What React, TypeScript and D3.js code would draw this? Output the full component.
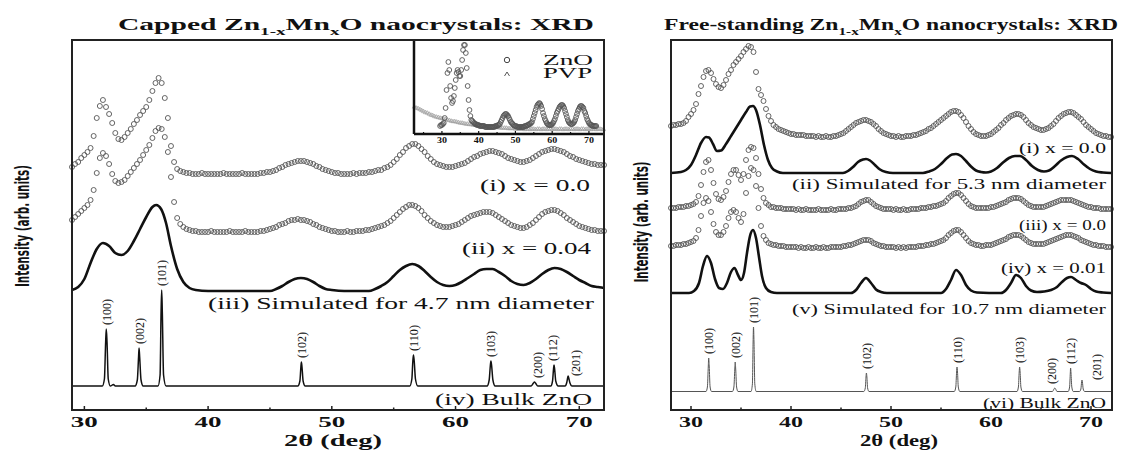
import * as d3 from 'd3'

// ---- data (2θ in degrees, intensity in arb. units above each trace's own baseline) ----
const STEP = 0.25
const CAP_START = 29
const FREE_START = 28
const INSET_START = 29.5
const PVP_START = 22.5
const PVP_STEP = 0.5

// capped NCs, (i) x = 0.0  (29 .. 72, step 0.25)
const capX000 = [
  7, 10, 12, 16, 19, 22, 26, 38, 56, 68, 74, 67, 60, 51, 41, 35,
  34, 37, 41, 45, 50, 54, 59, 63, 67, 74, 83, 91, 96, 91, 76, 56,
  28, 12, 5, 3, 2, 1, 1, 0, 0, 0, 1, 0, 0, 0, 0, 0,
  0, 1, 0, 0, 0, 0, 0, 1, 0, 0, 0, 0, 0, 1, 1, 2,
  2, 3, 4, 6, 7, 9, 10, 11, 12, 13, 13, 13, 12, 11, 10, 8,
  7, 5, 4, 3, 2, 1, 1, 0, 0, 0, 0, 1, 0, 1, 1, 1,
  2, 2, 3, 4, 4, 6, 7, 9, 12, 15, 19, 22, 26, 28, 30, 30,
  28, 25, 22, 18, 15, 12, 10, 9, 8, 7, 7, 7, 8, 9, 10, 11,
  13, 15, 17, 18, 20, 21, 22, 23, 23, 22, 21, 20, 18, 16, 15, 14,
  13, 12, 12, 13, 14, 16, 18, 20, 22, 23, 24, 25, 25, 24, 23, 22,
  20, 18, 17, 15, 14, 13, 12, 11, 10, 10, 9, 9, 9
]

// capped NCs, (ii) x = 0.04
const capX004 = [
  12, 15, 18, 21, 24, 27, 32, 42, 59, 74, 79, 76, 68, 58, 51, 49,
  50, 52, 56, 60, 64, 68, 72, 77, 82, 87, 94, 101, 104, 103, 95, 80,
  55, 30, 14, 8, 5, 3, 2, 1, 1, 0, 0, 0, 0, 1, 0, 0,
  0, 0, 0, 1, 0, 0, 0, 0, 1, 0, 0, 0, 0, 1, 1, 2,
  3, 4, 5, 7, 8, 9, 11, 12, 12, 13, 12, 12, 11, 10, 8, 7,
  5, 4, 3, 2, 1, 1, 0, 0, 0, 1, 0, 0, 1, 1, 1, 2,
  2, 3, 4, 5, 6, 7, 9, 11, 14, 17, 20, 23, 25, 27, 27, 26,
  24, 21, 17, 14, 11, 9, 7, 6, 5, 5, 5, 6, 7, 8, 10, 12,
  14, 16, 17, 18, 19, 20, 20, 20, 19, 17, 15, 13, 11, 9, 7, 6,
  5, 4, 4, 5, 7, 9, 12, 15, 18, 20, 21, 22, 22, 21, 19, 17,
  14, 12, 10, 8, 6, 5, 4, 3, 2, 2, 1, 1, 1
]

// capped NCs, (iii) simulated for 4.7 nm: [2θ, I]
const capSim47 = [
  [29, 1], [29.5, 4], [30, 12], [30.5, 28], [31, 42], [31.5, 48], [32, 45], [32.5, 38],
  [33, 36], [33.5, 40], [34, 50], [34.5, 62], [35, 74], [35.5, 84], [35.8, 86], [36.2, 82],
  [36.6, 68], [37, 45], [37.5, 22], [38, 9], [38.5, 3], [39, 1], [40, 0], [45, 0],
  [45.5, 2], [46, 5], [46.5, 9], [47, 12], [47.5, 13], [48, 12], [48.5, 9], [49, 5],
  [49.5, 2], [50, 1], [51, 0], [53, 0], [53.5, 2], [54, 5], [54.5, 9], [55, 15],
  [55.5, 21], [56, 25], [56.5, 27], [57, 25], [57.5, 20], [58, 14], [58.5, 9], [59, 6],
  [59.5, 5], [60, 6], [60.5, 9], [61, 13], [61.5, 17], [62, 21], [62.5, 22], [63, 22],
  [63.5, 19], [64, 15], [64.5, 10], [65, 7], [65.5, 6], [66, 8], [66.5, 12], [67, 17],
  [67.5, 21], [68, 23], [68.5, 22], [69, 19], [69.5, 15], [70, 11], [70.5, 8], [71, 5],
  [71.5, 4], [72, 3]
]

// capped panel, (iv) bulk ZnO: [2θ, I]
const capBulk = [
  [29, 1], [31.45, 1], [31.62, 8], [31.72, 45], [31.77, 58], [31.83, 45], [31.93, 8], [32.1, 1],
  [32.35, 2.5], [32.5, 1], [34.1, 1], [34.28, 7], [34.38, 30], [34.42, 39], [34.47, 30], [34.58, 7],
  [34.75, 1], [35.95, 1], [36.12, 12], [36.2, 75], [36.25, 97], [36.3, 75], [36.4, 12], [36.6, 1],
  [47.25, 1], [47.42, 6], [47.5, 20], [47.54, 25], [47.59, 20], [47.68, 6], [47.85, 1], [56.3, 1],
  [56.47, 8], [56.55, 26], [56.6, 32], [56.66, 26], [56.76, 8], [56.95, 1], [62.55, 1], [62.72, 7],
  [62.81, 21], [62.86, 26], [62.92, 21], [63.02, 7], [63.2, 1], [66.1, 1], [66.3, 4], [66.38, 5],
  [66.46, 4], [66.65, 1], [67.7, 1], [67.84, 6], [67.92, 18], [67.96, 22], [68.01, 18], [68.1, 6],
  [68.3, 1], [68.85, 1], [68.98, 4], [69.06, 9], [69.1, 11], [69.15, 9], [69.25, 4], [69.4, 1],
  [72, 1]
]

// free-standing NCs, (i) x = 0.0  (28 .. 72, step 0.25)
const freeX000a = [
  11, 12, 12, 13, 13, 14, 16, 20, 23, 27, 33, 43, 51, 60, 66, 67,
  64, 58, 53, 50, 49, 52, 57, 63, 67, 72, 75, 78, 81, 85, 88, 91,
  90, 85, 65, 48, 42, 36, 28, 21, 16, 12, 10, 8, 7, 6, 5, 4,
  3, 3, 2, 2, 2, 2, 1, 1, 1, 1, 0, 1, 0, 0, 1, 0,
  0, 1, 1, 2, 3, 4, 6, 8, 10, 12, 14, 15, 16, 17, 17, 16,
  15, 13, 11, 8, 6, 4, 3, 2, 1, 1, 0, 1, 0, 0, 1, 1,
  1, 2, 2, 3, 4, 5, 6, 8, 9, 11, 13, 15, 17, 19, 21, 23,
  25, 26, 26, 25, 22, 19, 15, 11, 8, 5, 3, 2, 1, 1, 1, 2,
  3, 5, 7, 9, 12, 14, 17, 19, 21, 22, 23, 23, 22, 20, 17, 14,
  12, 10, 9, 8, 7, 7, 8, 9, 11, 13, 16, 19, 21, 23, 24, 25,
  25, 24, 22, 20, 18, 15, 12, 10, 8, 6, 4, 3, 2, 1, 1, 0,
  0
]

// free-standing, (ii) simulated for 5.3 nm
const freeSim53 = [
  [28, 0], [29, 1], [29.5, 3], [30, 8], [30.5, 18], [31, 30], [31.5, 36], [31.8, 35.5],
  [32.2, 29], [32.6, 22], [33, 22.5], [33.5, 29], [34, 37], [34.5, 45], [35, 53], [35.5, 61],
  [35.9, 66.5], [36.2, 67], [36.5, 63], [36.9, 48], [37.3, 28], [37.7, 13], [38.1, 5], [38.6, 1.5],
  [39.2, 0], [45.2, 0], [45.7, 2], [46.2, 6], [46.7, 11], [47.2, 13.5], [47.5, 14], [47.9, 12.5],
  [48.4, 8], [48.9, 3.5], [49.5, 1], [50.2, 0], [53.2, 0], [53.8, 1.5], [54.4, 4], [55, 9],
  [55.6, 15], [56.1, 18.5], [56.5, 19], [57, 17], [57.5, 12], [58, 6.5], [58.5, 2.5], [59, 1],
  [59.5, 0.5], [60, 1.5], [60.6, 5], [61.2, 10.5], [61.8, 15], [62.4, 17], [62.9, 17], [63.5, 13],
  [64.1, 7], [64.7, 3], [65.3, 1.5], [65.8, 2.5], [66.4, 7], [67, 12.5], [67.6, 16], [68.1, 17],
  [68.7, 14], [69.3, 8.5], [69.9, 4], [70.5, 1.5], [71.2, 0.5], [72, 0]
]

// free-standing, (iii) x = 0.0
const freeX000b = [
  2, 2, 2, 3, 3, 3, 4, 4, 5, 6, 8, 14, 25, 38, 48, 50,
  40, 27, 16, 11, 10, 13, 19, 28, 36, 40, 40, 35, 30, 36, 50, 60,
  63, 62, 52, 36, 21, 12, 7, 5, 3, 3, 2, 2, 2, 1, 1, 1,
  1, 1, 0, 1, 0, 0, 1, 0, 0, 0, 0, 1, 0, 0, 0, 0,
  1, 0, 0, 1, 1, 1, 1, 2, 2, 3, 4, 6, 8, 9, 10, 10,
  8, 6, 4, 3, 2, 1, 1, 1, 1, 0, 1, 0, 0, 1, 0, 0,
  1, 1, 1, 1, 2, 2, 2, 3, 3, 4, 4, 5, 6, 7, 9, 12,
  14, 16, 17, 17, 15, 12, 9, 6, 4, 3, 2, 2, 2, 2, 2, 2,
  3, 3, 4, 5, 6, 7, 8, 10, 11, 12, 12, 12, 11, 9, 7, 5,
  4, 3, 3, 3, 3, 3, 4, 5, 6, 7, 8, 9, 10, 10, 10, 10,
  10, 9, 8, 7, 6, 5, 4, 3, 3, 2, 2, 2, 1, 1, 1, 1,
  1
]

// free-standing, (iv) x = 0.01
const freeX001 = [
  2, 2, 3, 3, 3, 4, 4, 5, 6, 7, 10, 18, 32, 45, 50, 47,
  36, 24, 16, 13, 13, 16, 22, 30, 36, 38, 36, 30, 26, 34, 55, 72,
  80, 78, 62, 40, 22, 12, 8, 5, 4, 3, 3, 2, 2, 2, 1, 1,
  1, 1, 1, 0, 1, 0, 0, 1, 0, 0, 1, 0, 0, 1, 0, 0,
  1, 1, 1, 1, 1, 2, 2, 3, 3, 4, 5, 6, 7, 8, 8, 8,
  7, 5, 4, 3, 2, 2, 1, 1, 1, 1, 0, 1, 0, 1, 0, 1,
  1, 1, 1, 2, 2, 2, 3, 3, 4, 4, 5, 6, 7, 8, 10, 13,
  15, 17, 18, 18, 16, 13, 10, 7, 5, 4, 3, 3, 2, 2, 3, 3,
  3, 4, 5, 6, 7, 8, 9, 11, 12, 13, 13, 13, 12, 10, 8, 6,
  5, 4, 4, 4, 4, 4, 5, 6, 7, 8, 9, 10, 11, 12, 13, 13,
  13, 12, 11, 10, 8, 7, 6, 5, 4, 3, 3, 2, 2, 2, 1, 1,
  1
]

// free-standing, (v) simulated for 10.7 nm
const freeSim107 = [
  [28, 0], [29.8, 0], [30.3, 2], [30.8, 10], [31.2, 27], [31.6, 37], [32, 30], [32.4, 14],
  [32.8, 5], [33.2, 4], [33.6, 10], [34, 21], [34.35, 25], [34.7, 18], [35, 13], [35.3, 20],
  [35.6, 40], [35.9, 57], [36.2, 63], [36.5, 55], [36.8, 36], [37.1, 17], [37.5, 5], [38, 1],
  [38.6, 0], [46, 0], [46.5, 3], [47, 10], [47.5, 15], [48, 10], [48.5, 3.5], [49, 1],
  [49.6, 0], [55, 0], [55.5, 4], [56, 13], [56.5, 23], [57, 18], [57.5, 8], [58, 2.5],
  [58.6, 0.5], [61, 0], [61.5, 3], [62, 10], [62.5, 18], [63, 15], [63.5, 7], [64, 2.5],
  [64.6, 1], [65.3, 1.5], [66, 3], [66.6, 6], [67.1, 11], [67.6, 15], [68, 16], [68.5, 13],
  [69, 10], [69.5, 8], [70, 4], [70.5, 1.5], [71.2, 0.5], [72, 0]
]

// free-standing panel, (vi) bulk ZnO
const freeBulk = [
  [28, 0.5], [31.5, 0.5], [31.64, 5], [31.73, 26], [31.77, 34], [31.82, 26], [31.91, 5], [32.05, 0.5],
  [34.15, 0.5], [34.29, 5], [34.38, 23], [34.42, 30], [34.47, 23], [34.56, 5], [34.7, 0.5], [36.0, 0.5],
  [36.14, 8], [36.21, 50], [36.25, 65], [36.3, 50], [36.38, 8], [36.52, 0.5], [47.28, 0.5], [47.43, 4],
  [47.5, 15], [47.54, 19], [47.59, 15], [47.66, 4], [47.8, 0.5], [56.33, 0.5], [56.48, 5], [56.56, 20],
  [56.6, 25], [56.65, 20], [56.73, 5], [56.88, 0.5], [62.6, 0.5], [62.74, 5], [62.82, 20], [62.86, 25],
  [62.91, 20], [62.99, 5], [63.14, 0.5], [66.15, 0.5], [66.3, 3], [66.38, 4], [66.46, 3], [66.6, 0.5],
  [67.72, 0.5], [67.86, 5], [67.93, 19], [67.96, 24], [68.0, 19], [68.08, 5], [68.22, 0.5], [68.86, 0.5],
  [68.99, 3], [69.06, 10], [69.1, 12], [69.14, 10], [69.22, 3], [69.36, 0.5], [72, 0.5]
]

// inset: capped ZnO (29.5 .. 72, step 0.25) and bare PVP (22.5 .. 74, step 0.5)
const insetZnO = [
  2, 3,
  3, 4, 5, 10, 20, 38, 55, 66, 58, 42, 30, 25, 27, 32, 40, 48,
  55, 58, 56, 52, 52, 58, 68, 78, 83, 83, 75, 60, 42, 28, 18, 12,
  8, 7, 6, 5, 4, 4, 3, 3, 3, 2, 2, 2, 2, 2, 2, 1,
  1, 1, 1, 1, 1, 1, 1, 1, 1, 1, 2, 2, 2, 3, 3, 4,
  6, 8, 10, 12, 13, 14, 14, 13, 12, 10, 8, 6, 5, 4, 3, 2,
  2, 2, 1, 1, 1, 1, 1, 1, 1, 1, 2, 2, 2, 3, 3, 4,
  4, 5, 6, 9, 12, 15, 18, 21, 23, 24, 25, 24, 22, 19, 15, 12,
  9, 7, 5, 4, 3, 3, 3, 3, 4, 5, 7, 9, 12, 15, 17, 19,
  21, 22, 23, 23, 22, 20, 17, 14, 11, 8, 6, 5, 4, 4, 4, 5,
  6, 8, 11, 14, 17, 19, 21, 22, 22, 21, 20, 17, 15, 12, 9, 7,
  5, 4, 3, 3, 2, 2, 2, 2, 2
]
const insetPVP = [
  27,
  26, 25.5, 24.5, 23.5, 22.5, 21.5, 21, 20, 19, 18.5, 17.5, 17, 16.5, 16, 15.5, 15,
  14.5, 14, 13.5, 13, 12.5, 12.5, 12, 11.5, 11, 11, 10.5, 10, 10, 9.5, 9.5, 9,
  9, 8.5, 8.5, 8, 8, 8, 7.5, 7.5, 7, 7, 7, 6.5, 6.5, 6.5, 6, 6,
  6, 6, 5.5, 5.5, 5.5, 5.5, 5, 5, 5, 5, 5, 4.5, 5, 5, 4.5, 5,
  5, 4.5, 5, 5, 4.5, 5, 5, 4.5, 5, 5, 4.5, 5, 5, 4.5, 5, 5,
  4.5, 5, 5, 4.5, 5, 5, 4.5, 5, 5, 4.5, 5, 5, 4.5, 5, 5, 4.5,
  5, 5, 4.5, 5, 5, 4.5,
  4.5
]

// Miller indices of the bulk reflections
const HKL = ['(100)', '(002)', '(101)', '(102)', '(110)', '(103)', '(200)', '(112)', '(201)']
const HKL_POS = [31.77, 34.42, 36.25, 47.54, 56.6, 62.86, 66.38, 67.96, 69.1]
const CAP_HKL_I = [58, 39, 97, 25, 32, 26, 5, 22, 11]
const FREE_HKL_I = [34, 30, 65, 19, 25, 25, 4, 24, 12]

const X_TICKS = [30, 40, 50, 60, 70]
const X_MINOR = [35, 45, 55, 65]
const INSET_TICKS = [30, 40, 50, 60, 70]
const INSET_MINOR = [25, 35, 45, 55, 65]

const CAP_LABELS = ['(i) x = 0.0', '(ii) x = 0.04', '(iii) Simulated for 4.7 nm diameter', '(iv) Bulk ZnO']
const FREE_LABELS = [
  '(i) x = 0.0', '(ii) Simulated for 5.3 nm diameter', '(iii) x = 0.0',
  '(iv) x = 0.01', '(v) Simulated for 10.7 nm diameter', '(vi) Bulk ZnO'
]

// ---- layout ----
const TOP = 40
const BOTTOM = 410
const SERIF = "'Liberation Serif', 'Times New Roman', serif"
const NARROW = "'Liberation Sans Narrow', 'DejaVu Sans Condensed', 'Liberation Sans', sans-serif"
const CIRCLE_STROKE = '#555'

const y = d3.scaleLinear().domain([0, BOTTOM - TOP]).range([BOTTOM, TOP])
const xCap = d3.scaleLinear().domain([29, 72]).range([72, 604])
const xFree = d3.scaleLinear().domain([28, 72.1]).range([671, 1112])
const xIn = d3.scaleLinear().domain([22.4, 74.1]).range([414, 604])
const yIn = d3.scaleLinear().domain([0, 94]).range([134, 40])

// vertical offsets of the stacked traces
const CAP_OFF = { i: 236, ii: 178, iii: 119, iv: 23 }
const FREE_OFF = { i: 273, ii: 237, iii: 200, iv: 162, v: 117, vi: 18 }
const INSET_OFF = { zno: 6, pvp: 0 }

// [x, baseline, width] of the curve labels
const CAP_LABEL_BOX = [[480, 191, 110], [462, 254, 129], [208, 309, 386], [435, 405, 157]]
const FREE_LABEL_BOX = [[1019, 153, 87], [792, 189, 314], [1019, 230, 87], [1001, 273, 105], [792, 314, 314], [983, 408, 123]]
const CAP_HKL_DX = [0, 0, 0, 0, 0, 0, 3, -2, 7]
const CAP_HKL_GAP = [4, 4, 4, 4, 4, 4, 4, 4, 0]
const FREE_HKL_DX = [0, 0, 0, 0, 0, 0, -3, 0, 14]
const FREE_HKL_GAP = [4, 4, 4, 4, 4, 4, 4, 4, 0]

function Circles({ start, step, values, offset, x, yS, r = 2.5 }) {
  return (
    <g fill="none" stroke={CIRCLE_STROKE} strokeWidth={0.9}>
      {values.map((v, i) => (
        <circle key={i} cx={x(start + i * step)} cy={yS(offset + v)} r={r} />
      ))}
    </g>
  )
}

function Trace({ points, offset, x, width, color = '#111' }) {
  const line = d3.line()
    .x(d => x(d[0]))
    .y(d => y(offset + d[1]))
    .curve(d3.curveMonotoneX)
  return <path d={line(points)} fill="none" stroke={color} strokeWidth={width} strokeLinejoin="round" />
}

function HklLabels({ x, amps, offset, dx, gap, size, len }) {
  return (
    <g fontFamily={SERIF} fontSize={size} fill="#111">
      {HKL.map((h, i) => {
        const px = x(HKL_POS[i]) + dx[i]
        const py = y(offset + amps[i]) - gap[i]
        return (
          <text key={h} transform={`translate(${px},${py}) rotate(-90)`} dy="0.35em"
            textLength={len} lengthAdjust="spacingAndGlyphs">{h}</text>
        )
      })}
    </g>
  )
}

function Frame({ x, tickLen, labelLen, labelSize }) {
  const [x0, x1] = x.range()
  return (
    <g>
      <rect x={x0} y={TOP} width={x1 - x0} height={BOTTOM - TOP} fill="none" stroke="#222" strokeWidth={2} />
      {X_TICKS.map(t => (
        <g key={t}>
          <line x1={x(t)} x2={x(t)} y1={BOTTOM} y2={BOTTOM - tickLen} stroke="#222" strokeWidth={1.5} />
          <text x={x(t) - labelLen / 2} y={427} fontFamily={SERIF} fontWeight="bold" fontSize={labelSize}
            textLength={labelLen} lengthAdjust="spacingAndGlyphs" fill="#111">{t}</text>
        </g>
      ))}
      {X_MINOR.map(t => (
        <line key={t} x1={x(t)} x2={x(t)} y1={BOTTOM} y2={BOTTOM - 2.5} stroke="#222" strokeWidth={1.5} />
      ))}
    </g>
  )
}

function CurveLabels({ labels, boxes, size }) {
  return (
    <g fontFamily={SERIF} fontSize={size} fill="#111">
      {labels.map((l, i) => (
        <text key={l + i} x={boxes[i][0]} y={boxes[i][1]} textLength={boxes[i][2]}
          lengthAdjust="spacingAndGlyphs">{l}</text>
      ))}
    </g>
  )
}

function Title({ x, len, lead, tail }) {
  return (
    <text x={x} y={30} fontFamily={SERIF} fontWeight="bold" fontSize={17} fill="#111"
      textLength={len} lengthAdjust="spacingAndGlyphs">
      {lead}<tspan fontSize={11} dy={5}>1-x</tspan><tspan dy={-5}>Mn</tspan>
      <tspan fontSize={11} dy={5}>x</tspan><tspan dy={-5}>{tail}</tspan>
    </text>
  )
}

function YLabel({ cx, cy, len }) {
  return (
    <text transform={`translate(${cx},${cy}) rotate(-90)`} x={-len / 2} dy="0.35em"
      fontFamily={NARROW} fontWeight="bold" fontSize={20} fill="#111"
      textLength={len} lengthAdjust="spacingAndGlyphs">Intensity (arb. units)</text>
  )
}

function XLabel({ x0, len }) {
  return (
    <text x={x0} y={446} fontFamily={SERIF} fontWeight="bold" fontSize={16} fill="#111"
      textLength={len} lengthAdjust="spacingAndGlyphs">2θ (deg)</text>
  )
}

function Inset() {
  const tri = d3.symbol(d3.symbolTriangle, 7)()
  return (
    <g>
      <rect x={414} y={TOP} width={190} height={94} fill="#fff" />
      {insetPVP.map((v, i) => (
        <path key={i} d={tri} transform={`translate(${xIn(PVP_START + i * PVP_STEP)},${yIn(INSET_OFF.pvp + v)})`}
          fill="none" stroke="#999" strokeWidth={0.7} />
      ))}
      <Circles start={INSET_START} step={STEP} values={insetZnO} offset={INSET_OFF.zno} x={xIn} yS={yIn} r={2.4} />
      <line x1={414} x2={414} y1={TOP} y2={134} stroke="#111" strokeWidth={2.5} />
      <line x1={414} x2={604} y1={134} y2={134} stroke="#111" strokeWidth={2.5} />
      {INSET_TICKS.map(t => (
        <g key={t}>
          <line x1={xIn(t)} x2={xIn(t)} y1={134} y2={131} stroke="#111" strokeWidth={1.2} />
          <text x={xIn(t) - 5} y={143} fontFamily={SERIF} fontWeight="bold" fontSize={8}
            textLength={10} lengthAdjust="spacingAndGlyphs" fill="#111">{t}</text>
        </g>
      ))}
      {INSET_MINOR.map(t => (
        <line key={t} x1={xIn(t)} x2={xIn(t)} y1={134} y2={132} stroke="#111" strokeWidth={1.2} />
      ))}
      <circle cx={507} cy={60} r={2.7} fill="none" stroke="#444" strokeWidth={1} />
      <path d="M504.5,76 L507,72 L509.5,76" fill="none" stroke="#444" strokeWidth={0.9} />
      <text x={543} y={65} fontFamily={SERIF} fontSize={14} fill="#111" textLength={50} lengthAdjust="spacingAndGlyphs">ZnO</text>
      <text x={543} y={78} fontFamily={SERIF} fontSize={14} fill="#111" textLength={49} lengthAdjust="spacingAndGlyphs">PVP</text>
    </g>
  )
}

export default function App() {
  return (
    <svg width={1122} height={450} style={{ display: 'block', position: 'absolute', left: 0, top: 0, background: '#fff' }}>
      {/* capped panel */}
      <Title x={118} len={476} lead="Capped Zn" tail="O naocrystals: XRD" />
      <YLabel cx={22} cy={226} len={122} />
      <Circles start={CAP_START} step={STEP} values={capX000} offset={CAP_OFF.i} x={xCap} yS={y} />
      <Circles start={CAP_START} step={STEP} values={capX004} offset={CAP_OFF.ii} x={xCap} yS={y} />
      <Trace points={capSim47} offset={CAP_OFF.iii} x={xCap} width={2.6} />
      <Trace points={capBulk} offset={CAP_OFF.iv} x={xCap} width={1.5} />
      <HklLabels x={xCap} amps={CAP_HKL_I} offset={CAP_OFF.iv} dx={CAP_HKL_DX} gap={CAP_HKL_GAP} size={13} len={26} />
      <CurveLabels labels={CAP_LABELS} boxes={CAP_LABEL_BOX} size={16} />
      <Inset />
      <Frame x={xCap} tickLen={4} labelLen={27} labelSize={15} />
      <XLabel x0={284} len={98} />

      {/* free-standing panel */}
      <Title x={664} len={454} lead="Free-standing Zn" tail="O nanocrystals: XRD" />
      <YLabel cx={641} cy={222} len={121} />
      <Circles start={FREE_START} step={STEP} values={freeX000a} offset={FREE_OFF.i} x={xFree} yS={y} />
      <Trace points={freeSim53} offset={FREE_OFF.ii} x={xFree} width={2.6} />
      <Circles start={FREE_START} step={STEP} values={freeX000b} offset={FREE_OFF.iii} x={xFree} yS={y} />
      <Circles start={FREE_START} step={STEP} values={freeX001} offset={FREE_OFF.iv} x={xFree} yS={y} />
      <Trace points={freeSim107} offset={FREE_OFF.v} x={xFree} width={2.6} />
      <Trace points={freeBulk} offset={FREE_OFF.vi} x={xFree} width={1} color="#555" />
      <HklLabels x={xFree} amps={FREE_HKL_I} offset={FREE_OFF.vi} dx={FREE_HKL_DX} gap={FREE_HKL_GAP} size={13} len={26} />
      <CurveLabels labels={FREE_LABELS} boxes={FREE_LABEL_BOX} size={15} />
      <Frame x={xFree} tickLen={4} labelLen={24} labelSize={15} />
      <XLabel x0={860} len={78} />
    </svg>
  )
}
